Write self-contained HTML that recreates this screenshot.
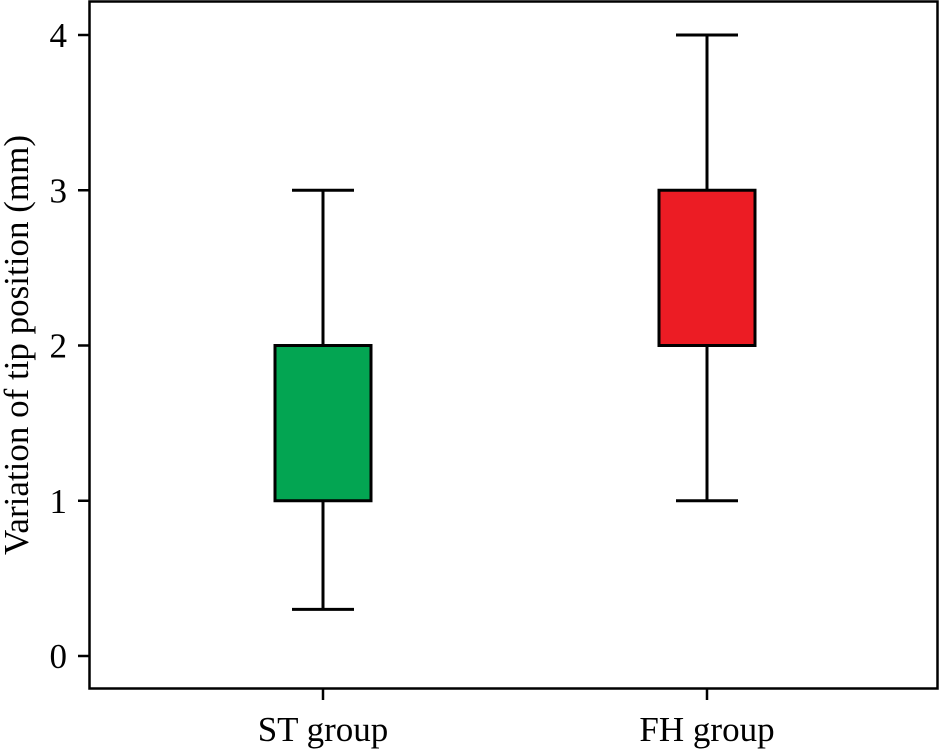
<!DOCTYPE html>
<html><head><meta charset="utf-8"><style>
html,body{margin:0;padding:0;background:#fff}
svg text{font-family:"Liberation Serif",serif;fill:#000}
</style></head><body>
<svg width="942" height="750">
<rect x="89.5" y="1.5" width="848" height="687" fill="none" stroke="#000" stroke-width="2.5"/>
<g id="yaxis"></g>
<g id="xaxis"></g>
<g id="boxes"></g>
<text x="28" y="345" font-size="35" text-anchor="middle" transform="rotate(-90 28 345)">Variation of tip position (mm)</text>
</svg>
<script>
const categories=["ST group","FH group"];
const mins=[0.3,1];
const q1s=[1,2];
const q3s=[2,3];
const maxs=[3,4];
const colors=["#03a552","#ec1c24"];
const yTicks=[0,1,2,3,4];
const ns="http://www.w3.org/2000/svg";
function y(v){return 656-v*155.25;}
const xPos=[323,707];
function x(i){return xPos[i];}
function mk(tag,attrs,parent){const e=document.createElementNS(ns,tag);for(const k in attrs)e.setAttribute(k,attrs[k]);parent.appendChild(e);return e;}
const ya=document.getElementById('yaxis'),xa=document.getElementById('xaxis'),bx=document.getElementById('boxes');
yTicks.forEach(t=>{
  const l=mk('line',{x1:78,x2:89,y1:y(t),y2:y(t),stroke:'#000','stroke-width':2.5},ya);
  
  
  const tx=mk('text',{x:67,y:y(t)+12,'font-size':35,'text-anchor':'end'},ya);
  tx.textContent=t;
  
  
});
categories.forEach((c,i)=>{
  const cx=x(i);
  const l=mk('line',{x1:cx,x2:cx,y1:689,y2:700,stroke:'#000','stroke-width':2.5},xa);
  
  
  const tx=mk('text',{x:cx,y:741,'font-size':35,'text-anchor':'middle'},xa);
  tx.textContent=c;
  
  
  const w=mk('line',{x1:cx,x2:cx,y1:y(maxs[i]),y2:y(mins[i]),stroke:'#000','stroke-width':3},bx);
  
  
  [mins[i],maxs[i]].forEach(v=>{
    const cap=mk('line',{x1:cx-31,x2:cx+31,y1:y(v),y2:y(v),stroke:'#000','stroke-width':3},bx);
    
    
  });
  const r=mk('rect',{x:cx-48,y:y(q3s[i]),width:96,height:y(q1s[i])-y(q3s[i]),fill:colors[i],stroke:'#000','stroke-width':3},bx);
  
  
});
</script>
</body></html>
